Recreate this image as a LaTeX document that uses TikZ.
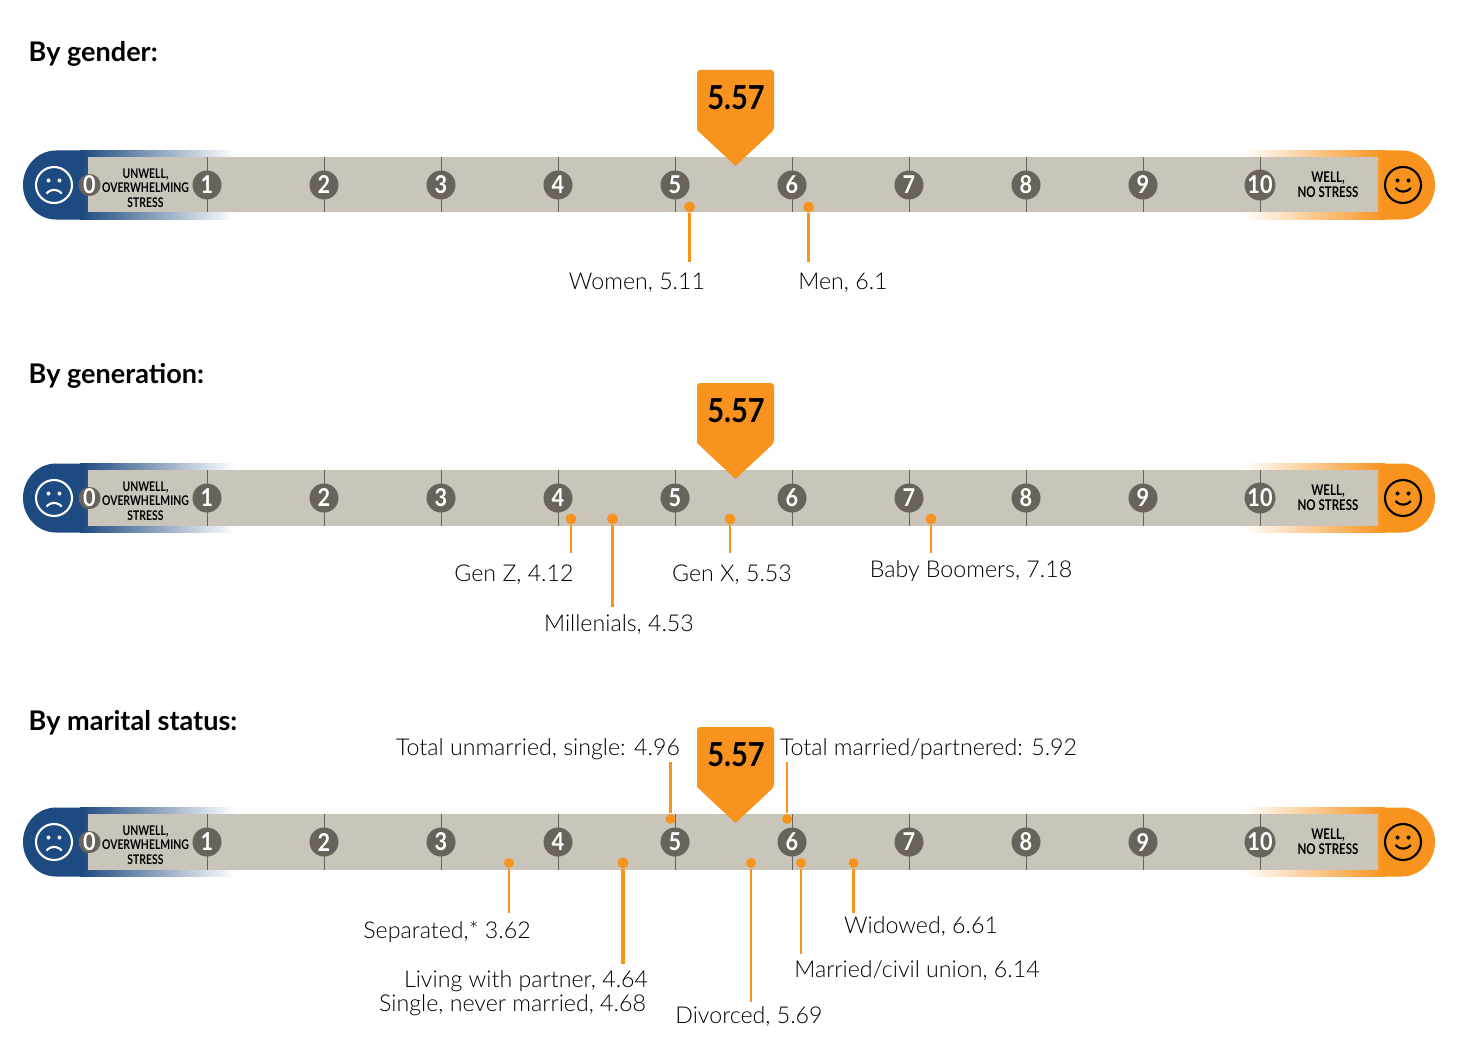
\documentclass[tikz,border=0pt]{standalone}
\usepackage{fontspec}
\setmainfont{Lato}
\newfontfamily\narrowfont[FakeStretch=0.78]{Lato Bold}
\newfontfamily\numberfont[FakeStretch=0.88]{Lato Bold}
\newfontfamily\lightfont{Lato Light}
\definecolor{wellorange}{HTML}{F7931E}
\definecolor{unwellblue}{HTML}{1D4A80}
\definecolor{bargrey}{HTML}{C9C5BA}
\definecolor{tickgrey}{HTML}{6A635C}
\tikzset{
    heading/.style={anchor=west,inner sep=0pt,font=\fontsize{7.7}{10}\selectfont\bfseries},
    number/.style={circle,fill=tickgrey,text=white,inner sep=0pt,minimum size=0.29cm,font=\fontsize{7}{8}\selectfont\numberfont},
    endtext/.style={align=center,font=\fontsize{3.8}{4.2}\selectfont\narrowfont},
    score/.style={font=\fontsize{9.4}{10}\selectfont\numberfont},
    dot/.style={circle,fill=wellorange,inner sep=0pt,minimum size=0.11cm},
    lead/.style={wellorange,line width=0.6pt},
    label/.style={font=\fontsize{6.6}{8}\selectfont\lightfont},
}
\begin{document}
\begin{tikzpicture}
    \useasboundingbox (0,0) rectangle (14.58,-10.51);

    % Headings
    \node[heading] (gender) at (0.28,-0.535) {By gender:};
    \node[heading] (generation) at (0.28,-3.755) {By generation:};
    \node[heading] (marital) at (0.28,-7.225) {By marital status:};

    % The same scale three times
    \foreach \y in {-1.85,-4.98,-8.42} {
        \begin{scope}[shift={(0,\y)}]
            % Rounded ends
            \shade[left color=unwellblue,middle color=unwellblue!62,right color=white] (0.8,-0.345) rectangle (2.35,0.345);
            \shade[left color=white,middle color=wellorange!70,right color=wellorange] (12.43,-0.345) rectangle (13.85,0.345);
            \fill[unwellblue] (0.84,0.345) -- (0.56,0.345) arc (90:270:0.33 and 0.345) -- (0.84,-0.345) -- cycle;
            \fill[wellorange] (13.82,0.345) -- (14.02,0.345) arc (90:-90:0.33 and 0.345) -- (13.82,-0.345) -- cycle;

            % Grey band
            \fill[bargrey] (0.88,-0.275) rectangle (13.78,0.28);

            % Ticks and numbers
            \foreach \n in {1,...,10} {
                \draw[tickgrey,line width=0.25pt] (0.9+1.17*\n,0.28) -- (0.9+1.17*\n,-0.275);
                \node[number] (num\n) at (0.9+1.17*\n,0) {\n};
            }
            \node[number,minimum size=0.22cm] (num0) at (0.895,0) {0};

            % End texts
            \node[endtext] (unwell) at (1.455,-0.03) {UNWELL,\\OVERWHELMING\\STRESS};
            \node[endtext,font=\fontsize{4.2}{4.2}\selectfont\narrowfont] (nostress) at (13.28,0) {WELL,\\NO STRESS};

            % Sad face
            \draw[white,line width=0.6pt] (0.54,0) circle (0.18);
            \fill[white] (0.485,0.045) circle (0.02);
            \fill[white] (0.595,0.045) circle (0.02);
            \draw[white,line width=0.6pt] (0.465,-0.085) arc (140:40:0.1);

            % Happy face
            \draw[line width=0.6pt] (14.03,0) circle (0.18);
            \fill (13.975,0.045) circle (0.02);
            \fill (14.085,0.045) circle (0.02);
            \draw[line width=0.6pt] (13.955,-0.03) arc (220:320:0.1);

            % Pointer with the mean
            \fill[wellorange,rounded corners=0.03cm] (6.97,0.55) -- (6.97,1.15) -- (7.74,1.15) -- (7.74,0.55) [sharp corners] -- (7.355,0.19) -- cycle;
            \node[score] (mean) at (7.36,0.87) {5.57};
        \end{scope}
    }

    % By gender
    \node[dot] (women) at (6.895,-2.07) {};
    \coordinate (womenend) at (6.895,-2.62);
    \draw[lead] (women) -- (womenend);
    \node[label] (womenlabel) at (6.37,-2.825) {Women, 5.11};

    \node[dot] (men) at (8.085,-2.07) {};
    \coordinate (menend) at (8.085,-2.62);
    \draw[lead] (men) -- (menend);
    \node[label] (menlabel) at (8.43,-2.825) {Men, 6.1};

    % By generation
    \node[dot] (genz) at (5.71,-5.19) {};
    \coordinate (genzend) at (5.71,-5.53);
    \draw[lead] (genz) -- (genzend);
    \node[label] (genzlabel) at (5.14,-5.745) {Gen Z, 4.12};

    \node[dot] (millenials) at (6.125,-5.19) {};
    \coordinate (millenialsend) at (6.125,-6.07);
    \draw[lead] (millenials) -- (millenialsend);
    \node[label] (millenialslabel) at (6.19,-6.245) {Millenials, 4.53};

    \node[dot] (genx) at (7.3,-5.19) {};
    \coordinate (genxend) at (7.3,-5.53);
    \draw[lead] (genx) -- (genxend);
    \node[label] (genxlabel) at (7.32,-5.745) {Gen X, 5.53};

    \node[dot] (boomers) at (9.31,-5.19) {};
    \coordinate (boomersend) at (9.31,-5.53);
    \draw[lead] (boomers) -- (boomersend);
    \node[label] (boomerslabel) at (9.71,-5.715) {Baby Boomers, 7.18};

    % By marital status, above the band
    \node[dot,minimum size=0.1cm] (unmarried) at (6.705,-8.19) {};
    \coordinate (unmarriedend) at (6.705,-7.62);
    \draw[lead] (unmarried) -- (unmarriedend);
    \node[label] (unmarriedlabel) at (5.38,-7.495) {Total unmarried, single: 4.96};

    \node[dot,minimum size=0.1cm] (married) at (7.87,-8.19) {};
    \coordinate (marriedend) at (7.87,-7.62);
    \draw[lead] (married) -- (marriedend);
    \node[label] (marriedlabel) at (9.285,-7.495) {Total married/partnered: 5.92};

    % By marital status, below the band
    \node[dot,minimum size=0.1cm] (separated) at (5.09,-8.63) {};
    \coordinate (separatedend) at (5.09,-9.13);
    \draw[lead] (separated) -- (separatedend);
    \node[label] (separatedlabel) at (4.47,-9.315) {Separated,* 3.62};

    \node[dot] (living) at (6.23,-8.63) {};
    \coordinate (livingend) at (6.23,-9.64);
    \draw[lead,line width=1pt] (living) -- (livingend);
    \node[label] (livinglabel) at (5.26,-9.815) {Living with partner, 4.64};
    \node[label] (singlelabel) at (5.125,-10.055) {Single, never married, 4.68};

    \node[dot,minimum size=0.1cm] (divorced) at (7.51,-8.63) {};
    \coordinate (divorcedend) at (7.51,-10.02);
    \draw[lead] (divorced) -- (divorcedend);
    \node[label] (divorcedlabel) at (7.49,-10.165) {Divorced, 5.69};

    \node[dot,minimum size=0.1cm] (civil) at (8.01,-8.63) {};
    \coordinate (civilend) at (8.01,-9.54);
    \draw[lead] (civil) -- (civilend);
    \node[label] (civillabel) at (9.17,-9.705) {Married/civil union, 6.14};

    \node[dot,minimum size=0.1cm] (widowed) at (8.535,-8.63) {};
    \coordinate (widowedend) at (8.535,-9.13);
    \draw[lead] (widowed) -- (widowedend);
    \node[label] (widowedlabel) at (9.21,-9.265) {Widowed, 6.61};
\end{tikzpicture}
\end{document}
